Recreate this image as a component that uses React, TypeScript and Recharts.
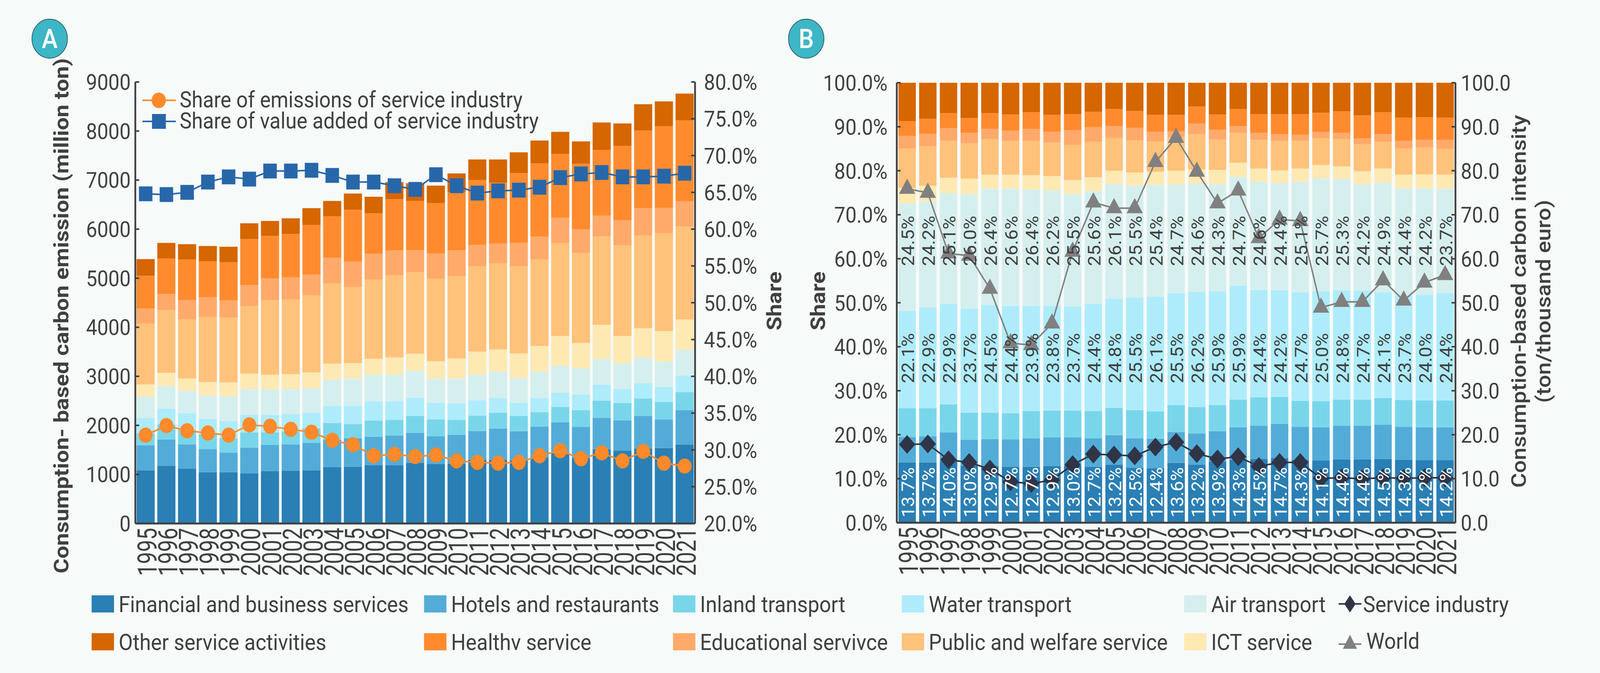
import React from "react";
import { Bar, ComposedChart, LabelList, Line, XAxis, YAxis } from "recharts";

const years = [
  "1995", "1996", "1997", "1998", "1999", "2000", "2001", "2002", "2003",
  "2004", "2005", "2006", "2007", "2008", "2009", "2010", "2011", "2012",
  "2013", "2014", "2015", "2016", "2017", "2018", "2019", "2020", "2021",
];

// Panel A: consumption-based emissions by service sector (million ton)
const financeA = [1086, 1175, 1115, 1044, 1044, 1019, 1069, 1079, 1086, 1146, 1157, 1185, 1185, 1238, 1210, 1221, 1302, 1302, 1281, 1345, 1433, 1334, 1515, 1486, 1529, 1539, 1610];
const hotelsA = [506, 538, 499, 474, 403, 527, 531, 535, 559, 560, 577, 584, 609, 613, 570, 587, 581, 634, 598, 630, 630, 637, 640, 619, 665, 584, 697];
const inlandA = [248, 304, 300, 297, 294, 308, 258, 261, 294, 343, 294, 329, 319, 343, 343, 305, 318, 322, 315, 297, 315, 336, 350, 351, 357, 358, 372];
const waterA = [308, 326, 333, 319, 343, 358, 354, 354, 319, 350, 371, 390, 375, 371, 336, 329, 311, 297, 265, 286, 290, 319, 326, 286, 305, 297, 339];
const airA = [439, 460, 456, 474, 510, 530, 520, 513, 499, 531, 556, 548, 545, 549, 496, 513, 524, 541, 506, 538, 542, 534, 524, 521, 523, 523, 521];
const ictA = [247, 268, 252, 276, 283, 312, 301, 301, 322, 329, 315, 322, 353, 347, 354, 407, 467, 453, 503, 524, 612, 520, 693, 559, 602, 623, 619];
const publicA = [1239, 1281, 1203, 1323, 1320, 1376, 1514, 1518, 1571, 1628, 1553, 1614, 1674, 1663, 1680, 1684, 1738, 1752, 1773, 1762, 1893, 1833, 1802, 1847, 1886, 1993, 1893];
const educationA = [308, 326, 396, 404, 354, 428, 446, 460, 421, 531, 513, 524, 506, 449, 514, 520, 439, 407, 478, 464, 517, 486, 428, 513, 563, 520, 515];
const healthA = [669, 722, 828, 736, 775, 942, 867, 882, 1016, 842, 1062, 831, 1045, 1002, 1026, 1186, 1320, 1239, 1423, 1497, 1303, 1334, 1334, 1515, 1579, 1660, 1655];
const otherA = [339, 319, 312, 308, 315, 319, 308, 318, 340, 315, 329, 333, 347, 361, 358, 383, 421, 474, 424, 464, 449, 456, 563, 457, 538, 507, 542];

// Panel A lines (%)
const emissionShareA = [32.0, 33.3, 32.6, 32.3, 32.0, 33.4, 33.2, 32.8, 32.4, 31.3, 30.7, 29.2, 29.4, 29.1, 29.3, 28.5, 28.3, 28.2, 28.3, 29.2, 29.9, 28.8, 29.6, 28.5, 29.8, 28.2, 27.8];
const valueAddedShareA = [64.8, 64.7, 65.0, 66.4, 67.1, 66.8, 67.9, 67.9, 68.0, 67.3, 66.4, 66.4, 65.9, 65.4, 67.4, 65.9, 64.9, 65.2, 65.3, 65.7, 67.0, 67.5, 67.7, 67.1, 67.1, 67.2, 67.6];

// Panel B: sector shares (%)
const financeB = [13.7, 13.7, 14.0, 13.0, 12.9, 12.7, 12.7, 12.9, 13.0, 12.7, 13.2, 12.5, 12.4, 13.6, 13.2, 13.9, 14.3, 14.5, 14.7, 14.3, 14.1, 14.4, 14.4, 14.5, 14.3, 14.2, 14.2];
const hotelsB = [5.8, 5.9, 6.5, 5.8, 6.1, 6.2, 6.5, 6.5, 6.4, 6.5, 6.7, 6.7, 6.7, 7.0, 7.1, 6.9, 7.4, 7.5, 7.8, 7.5, 7.6, 7.6, 7.6, 7.8, 7.5, 7.5, 7.5];
const inlandB = [6.5, 6.4, 6.4, 6.2, 6.0, 6.0, 6.2, 6.1, 6.1, 6.2, 6.2, 6.4, 6.2, 6.1, 6.0, 5.9, 6.3, 6.5, 6.1, 5.9, 5.9, 6.0, 6.0, 6.0, 6.1, 6.1, 6.1];
const waterB = [22.1, 22.9, 22.9, 23.7, 24.5, 24.4, 23.9, 23.8, 23.7, 24.4, 24.8, 25.5, 26.1, 25.5, 26.2, 25.9, 25.9, 24.4, 24.2, 24.7, 25.0, 24.8, 24.7, 24.1, 23.7, 24.0, 24.4];
const airB = [24.5, 24.2, 25.1, 26.0, 26.4, 26.6, 26.4, 26.2, 25.5, 25.6, 26.1, 25.5, 25.4, 24.7, 24.6, 24.3, 24.7, 24.6, 24.4, 25.1, 25.7, 25.3, 24.2, 24.9, 24.4, 24.2, 23.7];
const ictB = [3.5, 3.5, 3.5, 3.5, 3.2, 3.2, 3.3, 3.3, 3.2, 3.1, 3.0, 3.0, 3.0, 3.1, 3.2, 3.3, 3.2, 3.0, 2.9, 3.0, 3.0, 2.9, 3.0, 3.2, 3.1, 3.2, 3.2];
const publicB = [9.0, 9.0, 8.4, 8.0, 8.1, 7.7, 7.8, 7.6, 8.0, 8.1, 7.5, 7.3, 6.9, 7.6, 8.0, 6.9, 6.8, 6.5, 6.7, 6.3, 6.1, 6.2, 6.1, 6.1, 6.0, 6.1, 5.9];
const educationB = [2.8, 2.8, 2.9, 2.4, 2.3, 2.3, 2.7, 2.5, 3.3, 3.3, 2.6, 2.9, 2.2, 1.4, 2.4, 2.2, 1.5, 1.6, 1.5, 1.4, 1.4, 1.4, 1.4, 1.7, 1.7, 1.7, 2.0];
const healthB = [3.4, 3.4, 3.4, 3.4, 3.6, 3.7, 3.8, 3.8, 3.7, 3.5, 3.9, 3.8, 3.8, 3.7, 3.9, 3.5, 3.9, 4.3, 4.6, 4.7, 4.4, 4.9, 5.2, 5.0, 5.3, 5.2, 5.1];
const otherB = [8.7, 8.2, 6.9, 8.0, 6.9, 7.2, 6.7, 7.3, 7.1, 6.6, 6.0, 6.4, 7.3, 7.3, 5.4, 7.2, 6.0, 7.1, 7.1, 7.1, 6.8, 6.5, 7.4, 6.7, 7.9, 7.8, 7.9];

// Panel B lines (ton/thousand euro)
const serviceIntensity = [17.8, 17.9, 14.3, 13.7, 12.2, 9.3, 8.9, 9.7, 13.2, 15.6, 15.4, 15.2, 17.2, 18.3, 15.7, 14.5, 15.0, 12.8, 13.7, 13.7, 10.1, 10.2, 10.0, 10.2, 10.1, 10.2, 10.2];
const worldIntensity = [75.9, 75.0, 61.2, 60.7, 53.2, 40.8, 40.4, 45.3, 61.6, 72.8, 71.5, 71.5, 82.0, 87.5, 79.8, 72.6, 75.5, 64.7, 68.9, 68.6, 48.9, 50.2, 50.2, 55.1, 50.5, 54.6, 56.3];

const emissionTicks = [0, 1000, 2000, 3000, 4000, 5000, 6000, 7000, 8000, 9000];
const shareTicksA = [20, 25, 30, 35, 40, 45, 50, 55, 60, 65, 70, 75, 80];
const shareTicksB = [0, 10, 20, 30, 40, 50, 60, 70, 80, 90, 100];
const intensityTicks = [0, 10, 20, 30, 40, 50, 60, 70, 80, 90, 100];

const FONT = "Roboto, 'Noto Sans', sans-serif";
const INK = "#404040";
const EMIS = "#ff8a2b";
const VALUE = "#2767a9";
const SERVICE = "#2f3547";
const WORLD = "#808080";

// design size of the figure
const W = 4505;
const H = 1724;

const sectors = [
  { key: "finance", name: "Financial and business services", color: "#2a7fb4" },
  { key: "hotels", name: "Hotels and restaurants", color: "#53acd8" },
  { key: "inland", name: "Inland transport", color: "#79d6ea" },
  { key: "water", name: "Water transport", color: "#aeecfc" },
  { key: "air", name: "Air transport", color: "#d5efee" },
  { key: "ict", name: "ICT service", color: "#ffe9b3" },
  { key: "public", name: "Public and welfare service", color: "#ffc27a" },
  { key: "education", name: "Educational servivce", color: "#ffaa6b" },
  { key: "health", name: "Healthv service", color: "#ff8b2e" },
  { key: "other", name: "Other service activities", color: "#d56600" },
];

const dataA = years.map((year, i) => ({
  year,
  finance: financeA[i],
  hotels: hotelsA[i],
  inland: inlandA[i],
  water: waterA[i],
  air: airA[i],
  ict: ictA[i],
  public: publicA[i],
  education: educationA[i],
  health: healthA[i],
  other: otherA[i],
  emission: emissionShareA[i],
  valueAdded: valueAddedShareA[i],
}));

const dataB = years.map((year, i) => ({
  year,
  finance: financeB[i],
  hotels: hotelsB[i],
  inland: inlandB[i],
  water: waterB[i],
  air: airB[i],
  ict: ictB[i],
  public: publicB[i],
  education: educationB[i],
  health: healthB[i],
  other: otherB[i],
  service: serviceIntensity[i],
  world: worldIntensity[i],
}));

// plot geometry of panel B (used to place the in-bar share labels)
const PB_LEFT = 285;
const PB_TOP = 212;
const PB_H = 1127;
const PB_BAND = 1573 / years.length;

const pct = (v: number) => `${v.toFixed(1)}%`;

const LeftTick = (p: any) => {
  const { x, y, payload, gap, fmt } = p;
  return (
    <g>
      <line x1={x + gap} x2={x + gap + 11} y1={y} y2={y} stroke={INK} strokeWidth={4} />
      <text x={x} y={y} dy="0.36em" textAnchor="end" fontSize={56} fill={INK} fontFamily={FONT}>
        {fmt(payload.value)}
      </text>
    </g>
  );
};

const RightTick = (p: any) => {
  const { x, y, payload, gap, fmt } = p;
  return (
    <g>
      <line x1={x - gap} x2={x - gap - 11} y1={y} y2={y} stroke={INK} strokeWidth={4} />
      <text x={x} y={y} dy="0.36em" textAnchor="start" fontSize={56} fill={INK} fontFamily={FONT}>
        {fmt(payload.value)}
      </text>
    </g>
  );
};

const YearTick = (p: any) => {
  const { x, y, payload } = p;
  return (
    <text
      transform={`translate(${x + 31},${y}) rotate(-90) scale(1,1.38)`}
      textAnchor="end"
      fontSize={55}
      fill={INK}
      fontFamily={FONT}
    >
      {payload.value}
    </text>
  );
};

const circleDot = (p: any) => <circle key={`c${p.index}`} cx={p.cx} cy={p.cy} r={19.5} fill={EMIS} />;
const squareDot = (p: any) => (
  <rect key={`s${p.index}`} x={p.cx - 19} y={p.cy - 19} width={38} height={38} fill={VALUE} />
);
const diamondDot = (p: any) => (
  <polygon
    key={`d${p.index}`}
    points={`${p.cx},${p.cy - 24} ${p.cx + 23},${p.cy} ${p.cx},${p.cy + 24} ${p.cx - 23},${p.cy}`}
    fill={SERVICE}
  />
);
const triangleDot = (p: any) => (
  <polygon
    key={`t${p.index}`}
    points={`${p.cx},${p.cy - 26} ${p.cx + 23},${p.cy + 13} ${p.cx - 23},${p.cy + 13}`}
    fill={WORLD}
  />
);

// share labels of financial, water and air transport, drawn above the lines
const shareLabels = (p: any) => {
  const vb = p.viewBox || {};
  const cx = typeof p.x === "number" ? p.x : vb.x;
  if (typeof cx !== "number") return null;
  let i = p.index;
  if (typeof i !== "number") i = Math.round((cx - PB_LEFT) / PB_BAND - 0.5);
  const bx = cx + 20;
  const bottom = PB_TOP + PB_H;
  const rows = [
    { v: financeB[i], y: bottom - 0.012 * PB_H, c: "#ffffff" },
    { v: waterB[i], y: bottom - 0.317 * PB_H, c: INK },
    { v: airB[i], y: bottom - 0.5835 * PB_H, c: INK },
  ];
  return (
    <g key={`lbl${i}`}>
      {rows.map((r, k) => (
        <text
          key={k}
          transform={`translate(${bx},${r.y}) rotate(-90)`}
          textAnchor="start"
          fontSize={48}
          fill={r.c}
          fontFamily={FONT}
        >
          {pct(r.v)}
        </text>
      ))}
    </g>
  );
};

const axisLine = { stroke: INK, strokeWidth: 5 };

function PanelA() {
  return (
    <ComposedChart
      width={2240}
      height={1520}
      data={dataA}
      margin={{ top: 210, right: 83, bottom: 29, left: 181 }}
      barCategoryGap="6%"
    >
      <XAxis dataKey="year" interval={0} tickLine={false} tickSize={0} tickMargin={11} height={150} axisLine={axisLine} tick={(p: any) => <YearTick {...p} />} />
      <XAxis xAxisId="top" dataKey="year" orientation="top" height={0} tick={false} tickLine={false} axisLine={axisLine} />
      <YAxis
        yAxisId="left"
        domain={[0, 9000]}
        ticks={emissionTicks}
        interval={0}
        width={200}
        tickSize={0}
        tickMargin={13}
        tickLine={false}
        axisLine={axisLine}
        tick={(p: any) => <LeftTick {...p} gap={13} fmt={(v: number) => String(v)} />}
      />
      <YAxis
        yAxisId="right"
        orientation="right"
        domain={[20, 80]}
        ticks={shareTicksA}
        interval={0}
        width={200}
        tickSize={0}
        tickMargin={25}
        tickLine={false}
        axisLine={axisLine}
        tick={(p: any) => <RightTick {...p} gap={25} fmt={pct} />}
      />
      {sectors.map((s) => (
        <Bar key={s.key} yAxisId="left" dataKey={s.key} name={s.name} stackId="a" fill={s.color} isAnimationActive={false} />
      ))}
      <Line yAxisId="right" dataKey="emission" name="Share of emissions of service industry" stroke={EMIS} strokeWidth={4} dot={circleDot} activeDot={false} isAnimationActive={false} />
      <Line yAxisId="right" dataKey="valueAdded" name="Share of value added of service industry" stroke={VALUE} strokeWidth={4} dot={squareDot} activeDot={false} isAnimationActive={false} />
    </ComposedChart>
  );
}

function PanelB() {
  return (
    <ComposedChart
      width={2265}
      height={1520}
      data={dataB}
      margin={{ top: 212, right: 207, bottom: 31, left: 85 }}
      barCategoryGap="8%"
    >
      <XAxis dataKey="year" interval={0} tickLine={false} tickSize={0} tickMargin={11} height={150} axisLine={axisLine} tick={(p: any) => <YearTick {...p} />} />
      <XAxis xAxisId="top" dataKey="year" orientation="top" height={0} tick={false} tickLine={false} axisLine={axisLine} />
      <YAxis
        yAxisId="left"
        domain={[0, 100]}
        allowDataOverflow
        ticks={shareTicksB}
        interval={0}
        width={200}
        tickSize={0}
        tickMargin={26}
        tickLine={false}
        axisLine={axisLine}
        tick={(p: any) => <LeftTick {...p} gap={26} fmt={pct} />}
      />
      <YAxis
        yAxisId="right"
        orientation="right"
        domain={[0, 100]}
        ticks={intensityTicks}
        interval={0}
        width={200}
        tickSize={0}
        tickMargin={15}
        tickLine={false}
        axisLine={axisLine}
        tick={(p: any) => <RightTick {...p} gap={15} fmt={(v: number) => v.toFixed(1)} />}
      />
      {sectors.map((s) => (
        <Bar key={s.key} yAxisId="left" dataKey={s.key} name={s.name} stackId="b" fill={s.color} isAnimationActive={false} />
      ))}
      <Line yAxisId="right" dataKey="service" name="Service industry" stroke={SERVICE} strokeWidth={4} dot={diamondDot} activeDot={false} isAnimationActive={false} />
      <Line yAxisId="right" dataKey="world" name="World" stroke={WORLD} strokeWidth={4} dot={triangleDot} activeDot={false} isAnimationActive={false}>
        <LabelList dataKey="world" content={shareLabels} />
      </Line>
    </ComposedChart>
  );
}

const legendCols = [258, 1194, 1895, 2539, 3334, 3769];
const legendRows = [
  ["finance", "hotels", "inland", "water", "air"],
  ["other", "health", "education", "public", "ict"],
];

function Overlay() {
  const byKey = Object.fromEntries(sectors.map((s) => [s.key, s]));
  return (
    <svg width={W} height={H} style={{ position: "absolute", left: 0, top: 0, pointerEvents: "none" }} fontFamily={FONT}>
      {/* panel badges */}
      <circle cx={140} cy={99} r={50} fill="#3db6c6" stroke="#2c5e66" strokeWidth={2} />
      <text x={140} y={123} textAnchor="middle" fontSize={68} fill="#fff" fontWeight={500}>A</text>
      <circle cx={2270} cy={99} r={50} fill="#3db6c6" stroke="#2c5e66" strokeWidth={2} />
      <text x={2270} y={123} textAnchor="middle" fontSize={68} fill="#fff" fontWeight={500}>B</text>

      {/* axis titles */}
      <text transform="translate(193,809) rotate(-90)" textAnchor="middle" fontSize={58} fontWeight={700} fill={INK}>
        Consumption- based carbon emission (million ton)
      </text>
      <text transform="translate(2200,771) rotate(-90)" textAnchor="middle" fontSize={58} fontWeight={700} fill={INK}>Share</text>
      <text transform="translate(2323,771) rotate(-90)" textAnchor="middle" fontSize={58} fontWeight={700} fill={INK}>Share</text>
      <text transform="translate(4296,772) rotate(-90)" textAnchor="middle" fontSize={58} fontWeight={500} fill={INK}>
        Consumption-based carbon intensity
      </text>
      <text transform="translate(4365,772) rotate(-90)" textAnchor="middle" fontSize={58} fontWeight={500} fill={INK}>
        (ton/thousand euro)
      </text>

      {/* panel A line legend */}
      <line x1={401} x2={495} y1={257} y2={257} stroke={EMIS} strokeWidth={4} />
      <circle cx={447} cy={257} r={20} fill={EMIS} />
      <text x={506} y={275} fontSize={57} fill={INK}>Share of emissions of service industry</text>
      <line x1={401} x2={495} y1={311} y2={311} stroke={VALUE} strokeWidth={4} />
      <rect x={428} y={292} width={39} height={38} fill={VALUE} />
      <text x={506} y={329} fontSize={57} fill={INK}>Share of value added of service industry</text>

      {/* bottom legend */}
      {legendRows.map((row, r) =>
        row.map((k, c) => {
          const s = byKey[k];
          const top = r === 0 ? 1525 : 1622;
          return (
            <g key={k}>
              <rect x={legendCols[c]} y={top} width={63} height={44} fill={s.color} />
              <text x={legendCols[c] + 76} y={top + 43} fontSize={58} fill={INK}>{s.name}</text>
            </g>
          );
        })
      )}
      <line x1={3769} x2={3833} y1={1547} y2={1547} stroke={SERVICE} strokeWidth={4} />
      <polygon points="3801,1525 3817,1547 3801,1569 3785,1547" fill={SERVICE} />
      <text x={3838} y={1568} fontSize={58} fill={INK}>Service industry</text>
      <line x1={3769} x2={3833} y1={1650} y2={1650} stroke={WORLD} strokeWidth={4} />
      <polygon points="3801,1626 3821,1662 3781,1662" fill={WORLD} />
      <text x={3847} y={1662} fontSize={58} fill={INK}>World</text>
    </svg>
  );
}

export default function App() {
  // the browser may give a narrower viewport than the figure; fit the figure to it
  const vw = typeof window !== "undefined" ? window.innerWidth : W;
  const vh = typeof window !== "undefined" ? window.innerHeight : H;
  const sx = Math.min(1, vw / W);
  const sy = Math.min(1, vh / H);
  return (
    <div style={{ position: "absolute", left: 0, top: 0, width: W * sx, height: H * sy, overflow: "hidden", background: "#f6faf9" }}>
      <div
        style={{
          position: "absolute",
          left: 0,
          top: 0,
          width: W,
          height: H,
          background: "#f6faf9",
          fontFamily: FONT,
          transform: `scale(${sx}, ${sy})`,
          transformOrigin: "0 0",
        }}
      >
        <div style={{ position: "absolute", left: 0, top: 0 }}>
          <PanelA />
        </div>
        <div style={{ position: "absolute", left: 2240, top: 0 }}>
          <PanelB />
        </div>
        <Overlay />
      </div>
    </div>
  );
}
